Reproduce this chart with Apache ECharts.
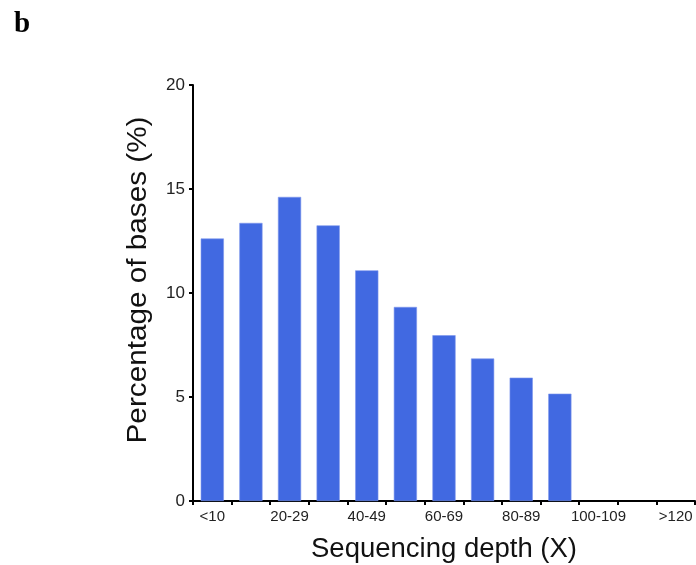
<!DOCTYPE html>
<html>
<head>
<meta charset="utf-8">
<script src="https://cdn.jsdelivr.net/npm/echarts@6/dist/echarts.min.js"></script>
<style>
  html, body { margin: 0; padding: 0; background: #fff; overflow: hidden; }
  #chart { width: 696px; height: 565px; }
</style>
</head>
<body>
<div id="chart"></div>
<script>
// Depth bins and the share of bases falling in each
const depthBins = ['<10', '10-19', '20-29', '30-39', '40-49', '50-59', '60-69',
                   '70-79', '80-89', '90-99', '100-109', '110-119', '>120'];
const percentBases = [12.62, 13.37, 14.62, 13.25, 11.09, 9.33, 7.97, 6.85, 5.93, 5.16, null, null, null];
const yTicks = [0, 5, 10, 15, 20];

const chart = echarts.init(document.getElementById('chart'), null, { renderer: 'canvas', width: 696, height: 565 });
const font = 'Liberation Sans, Arial, Helvetica, sans-serif';

chart.setOption({
  animation: false,
  backgroundColor: '#ffffff',
  title: {
    text: 'b',
    left: 9,
    top: 5,
    textStyle: { fontFamily: 'Liberation Serif, Times New Roman, serif', fontWeight: 'bold', fontSize: 29, color: '#000' }
  },
  grid: { left: 193, right: 1, top: 85, height: 416, containLabel: false, outerBoundsMode: 'none' },
  xAxis: {
    type: 'category',
    data: depthBins,
    name: 'Sequencing depth (X)',
    nameLocation: 'middle',
    nameGap: 34,
    nameTextStyle: { fontFamily: font, fontSize: 27.5, color: '#111' },
    axisLine: { lineStyle: { color: '#000', width: 2 } },
    axisTick: { show: true, alignWithLabel: false, interval: 0, length: 4, lineStyle: { color: '#000', width: 2 } },
    axisLabel: { interval: 1, fontFamily: font, fontSize: 15, color: '#222', margin: 8 }
  },
  yAxis: {
    type: 'value',
    min: yTicks[0],
    max: yTicks[yTicks.length - 1],
    interval: 5,
    axisLine: { show: true, lineStyle: { color: '#000', width: 2 } },
    axisTick: { show: true, length: 4, lineStyle: { color: '#000', width: 2 } },
    axisLabel: { fontFamily: font, fontSize: 17, color: '#222', margin: 8 },
    splitLine: { show: false }
  },
  graphic: [{
    // vertical axis title, drawn slightly stretched along its reading direction
    type: 'text',
    x: 139,
    y: 280,
    rotation: Math.PI / 2,
    scaleX: 1.1,
    style: {
      text: 'Percentage of bases (%)',
      font: '27px ' + font,
      fill: '#111',
      align: 'center',
      verticalAlign: 'middle'
    }
  }],
  series: [{
    type: 'bar',
    data: percentBases,
    barCategoryGap: '40%',
    itemStyle: { color: '#4169E1', borderColor: '#7e97ec', borderWidth: 0.6 }
  }]
});
</script>
</body>
</html>
